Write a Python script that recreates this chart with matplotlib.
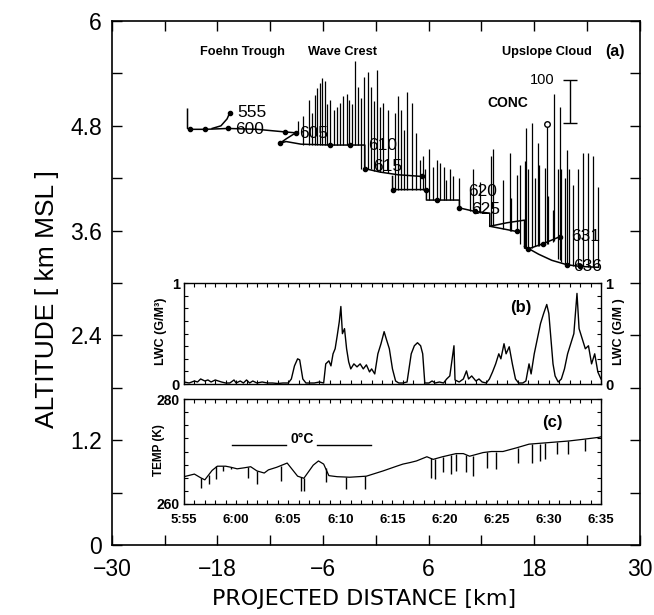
import matplotlib
matplotlib.use('Agg')
import matplotlib.pyplot as plt
from matplotlib.ticker import MultipleLocator, FixedLocator

plt.rcParams['font.family'] = ['Liberation Sans', 'DejaVu Sans']

# ---------------- (a) flight track: projected distance [km] vs altitude [km] ----------------
leg1_x = [-21.4, -21.4, -21.1, -19.4, -16.8, -13.5, -10.3, -9.1]
leg1_y = [4.99, 4.77, 4.76, 4.76, 4.77, 4.76, 4.73, 4.72]
leg2_x = [-18.6, -17.6, -16.9, -16.6]
leg2_y = [4.77, 4.80, 4.88, 4.95]
leg3_x = [-9.1, -10.2, -10.9, -10.2, -8.5, -5.2, -2.95, -1.25, -1.25, 0.5, 2.5, 5.3]
leg3_y = [4.72, 4.65, 4.60, 4.62, 4.59, 4.58, 4.58, 4.58, 4.31, 4.27, 4.24, 4.22]
leg4_x = [1.9, 1.9, 4.0, 5.75, 5.75, 7.5, 9.5, 9.5, 11.25, 12.95, 12.95, 16.0]
leg4_y = [4.22, 4.07, 4.07, 4.07, 3.95, 3.95, 3.95, 3.86, 3.82, 3.80, 3.65, 3.59]
leg5_x = [12.95, 14.9, 16.9, 16.9, 17.3, 19.0, 20.9]
leg5_y = [3.65, 3.69, 3.72, 3.40, 3.39, 3.45, 3.53]
leg6_x = [16.9, 18.5, 20.0, 21.7, 23.2, 25.3]
leg6_y = [3.42, 3.33, 3.26, 3.21, 3.19, 3.18]

dots_x = [-21.1, -19.4, -16.8, -16.6, -10.3, -9.1, -10.9, -5.2, -2.95, -1.25, 5.3,
          1.9, 5.75, 7.0, 9.5, 11.25, 16.0, 17.3, 19.0, 20.9, 21.7, 23.2]
dots_y = [4.76, 4.76, 4.77, 4.95, 4.73, 4.72, 4.60, 4.58, 4.58, 4.31, 4.22,
          4.07, 4.07, 3.95, 3.86, 3.82, 3.59, 3.39, 3.45, 3.53, 3.21, 3.19]

time_labels = ['555', '600', '605', '610', '615', '620', '625', '631', '636']
time_lab_x = [-15.7, -16.0, -8.7, -0.9, -0.35, 10.5, 10.8, 22.2, 22.4]
time_lab_y = [4.95, 4.76, 4.71, 4.58, 4.33, 4.05, 3.84, 3.53, 3.19]

# concentration spikes: position, base altitude, top altitude
spike_x = [-8.8, -8.3, -7.6, -7.3, -6.9, -6.7, -6.4, -6.1, -5.8, -5.5, -5.2, -4.7, -4.4,
           -4.1, -3.7, -3.3, -3.0, -2.7, -2.4, -2.0, -1.7, -1.4, -0.9, -0.5, -0.2, 0.1,
           0.5, 0.8, 1.4, 2.2, 2.5, 2.9, 3.2, 3.5, 4.1, 4.6, 5.0, 5.4, 5.6, 6.1, 6.5,
           6.9, 7.3, 7.8, 8.0, 8.4, 8.8, 9.5, 10.7, 11.1, 11.8, 13.1, 13.3, 14.5, 15.2,
           15.4, 16.0, 16.4, 16.9, 17.1, 17.3, 17.7, 18.1, 18.4, 18.6, 19.2, 19.4, 19.6,
           20.1, 20.3, 20.7, 20.9, 21.1, 21.5, 21.7, 21.9, 22.4, 23.0, 23.6, 24.1, 24.7,
           25.3]
spike_base = [4.72, 4.58, 4.58, 4.58, 4.58, 4.58, 4.58, 4.58, 4.58, 4.58, 4.58, 4.58, 4.58,
              4.58, 4.58, 4.58, 4.58, 4.58, 4.58, 4.58, 4.31, 4.31, 4.31, 4.31, 4.28, 4.28,
              4.27, 4.27, 4.26, 4.07, 4.07, 4.07, 4.07, 4.07, 4.07, 4.07, 4.07, 4.07, 4.07,
              3.95, 3.95, 3.95, 3.95, 3.95, 3.95, 3.95, 3.95, 3.86, 3.82, 3.82, 3.80, 3.65,
              3.65, 3.62, 3.60, 3.60, 3.59, 3.45, 3.40, 3.40, 3.40, 3.40, 3.42, 3.42, 3.42,
              3.44, 3.45, 3.45, 3.47, 3.48, 3.27, 3.26, 3.24, 3.22, 3.21, 3.21, 3.20, 3.19,
              3.19, 3.18, 3.18, 3.18]
spike_top = [4.85, 4.91, 5.10, 4.95, 5.15, 5.23, 5.29, 5.35, 5.31, 5.05, 5.10, 4.98, 5.02,
             5.06, 5.14, 5.17, 5.10, 5.05, 5.54, 5.25, 5.12, 5.36, 5.42, 5.25, 5.08, 5.44,
             5.02, 5.06, 4.98, 4.95, 5.14, 4.98, 4.75, 5.19, 5.06, 4.72, 4.41, 4.45, 4.30,
             4.54, 4.33, 4.41, 4.37, 4.33, 4.18, 4.31, 4.22, 4.20, 4.10, 4.31, 4.16, 4.45,
             4.53, 4.18, 4.49, 3.97, 4.24, 4.35, 4.40, 4.77, 4.30, 4.83, 4.20, 4.60, 4.35,
             4.32, 4.79, 4.00, 3.84, 5.16, 4.30, 5.02, 4.30, 4.20, 4.52, 4.30, 4.12, 4.30,
             4.49, 4.49, 4.45, 4.10]

x_ticks = [-30, -24, -18, -12, -6, 0, 6, 12, 18, 24, 30]
x_ticklabels = ['\u221230', '', '\u221218', '', '\u22126', '', '6', '', '18', '', '30']
y_ticks = [0, 0.6, 1.2, 1.8, 2.4, 3.0, 3.6, 4.2, 4.8, 5.4, 6.0]
y_ticklabels = ['0', '', '1.2', '', '2.4', '', '3.6', '', '4.8', '', '6']

# ---------------- (b) LWC [g/m3] vs time (minutes after 5:55) ----------------
lwc_t = [0.0, 0.5, 1.0, 1.3, 1.6, 2.0, 2.3, 2.6, 3.0, 3.3, 3.6, 4.0, 4.4, 4.8, 5.0, 5.4,
         5.7, 6.0, 6.3, 6.6, 7.0, 7.5, 8.0, 8.5, 9.0, 9.5, 10.0, 10.3, 10.6, 10.9, 11.1,
         11.4, 11.7, 12.0, 12.5, 13.0, 13.4, 13.6, 13.9, 14.1, 14.3, 14.5, 14.7, 14.9,
         15.05, 15.2, 15.4, 15.6, 15.8, 16.0, 16.3, 16.6, 16.9, 17.2, 17.5, 17.8, 18.0,
         18.3, 18.6, 18.9, 19.2, 19.4, 19.7, 20.0, 20.3, 20.6, 21.0, 21.4, 21.8, 22.1,
         22.4, 22.7, 22.9, 23.1, 23.5, 23.8, 24.1, 24.5, 24.9, 25.2, 25.5, 25.9, 26.0,
         26.4, 26.8, 27.1, 27.3, 27.6, 28.0, 28.3, 28.6, 29.0, 29.3, 29.6, 29.9, 30.2,
         30.4, 30.7, 30.9, 31.2, 31.5, 31.8, 32.1, 32.5, 32.8, 33.1, 33.3, 33.6, 33.9,
         34.2, 34.5, 34.8, 35.0, 35.2, 35.4, 35.6, 35.9, 36.2, 36.5, 36.8, 37.1, 37.4,
         37.7, 37.9, 38.2, 38.5, 38.8, 39.1, 39.4, 39.7, 40.0]
lwc_v = [0.02, 0.01, 0.03, 0.02, 0.05, 0.03, 0.04, 0.02, 0.04, 0.03, 0.02, 0.01, 0.01, 0.04,
         0.01, 0.03, 0.01, 0.04, 0.01, 0.03, 0.01, 0.02, 0.01, 0.01, 0.005, 0.01, 0.01, 0.05,
         0.18, 0.25, 0.24, 0.05, 0.01, 0.01, 0.01, 0.02, 0.01, 0.20, 0.23, 0.18, 0.30, 0.35,
         0.48, 0.62, 0.77, 0.50, 0.55, 0.35, 0.22, 0.15, 0.20, 0.17, 0.20, 0.15, 0.19, 0.12,
         0.15, 0.10, 0.30, 0.40, 0.52, 0.45, 0.35, 0.15, 0.03, 0.01, 0.01, 0.02, 0.30, 0.38,
         0.41, 0.38, 0.30, 0.01, 0.01, 0.03, 0.01, 0.02, 0.01, 0.05, 0.08, 0.38, 0.04, 0.02,
         0.05, 0.13, 0.05, 0.08, 0.03, 0.05, 0.02, 0.01, 0.05, 0.12, 0.20, 0.30, 0.25, 0.40,
         0.30, 0.37, 0.20, 0.05, 0.01, 0.01, 0.03, 0.20, 0.10, 0.30, 0.45, 0.60, 0.70, 0.79,
         0.70, 0.45, 0.20, 0.08, 0.02, 0.05, 0.15, 0.30, 0.40, 0.50, 0.90, 0.55, 0.45, 0.35,
         0.38, 0.20, 0.30, 0.12, 0.05]

# ---------------- (c) temperature [K] vs time ----------------
temp_t = [0.0, 1.0, 1.6, 2.0, 2.7, 3.2, 4.0, 4.5, 5.1, 5.8, 6.4, 7.0, 7.7, 8.1, 8.9, 9.9,
          10.5, 10.9, 11.5, 12.4, 12.9, 13.4, 13.9, 14.7, 15.9, 17.5, 19.1, 20.4, 21.0,
          21.7, 22.3, 23.3, 23.9, 24.8, 26.1, 26.8, 27.4, 28.7, 29.5, 30.6, 31.9, 33.1,
          35.0, 36.9, 38.2, 39.8, 40.0]
temp_v = [265.2, 265.7, 265.0, 264.6, 266.4, 267.2, 267.2, 267.0, 266.7, 266.9, 267.1, 266.3,
          265.9, 266.5, 267.0, 267.8, 266.3, 265.3, 264.9, 267.4, 268.2, 267.6, 265.4, 265.2,
          265.1, 265.3, 266.3, 267.2, 267.6, 267.9, 268.2, 269.0, 268.5, 269.0, 269.6, 269.6,
          269.1, 269.8, 270.0, 270.0, 270.7, 271.4, 271.7, 272.0, 272.3, 272.7, 272.8]
tspike_t = [1.6, 2.4, 3.1, 3.7, 4.5, 6.1, 7.0, 9.3, 11.2, 11.5, 13.6, 15.5, 17.4, 23.7, 24.1,
            24.8, 25.6, 26.1, 27.1, 27.7, 29.1, 29.9, 32.0, 33.4, 34.2, 34.6, 35.8, 36.8, 38.5]
tspike_top = [265.0, 265.6, 267.2, 267.2, 267.0, 267.0, 266.3, 267.3, 265.1, 264.9, 266.8,
              265.1, 265.3, 268.7, 268.6, 269.0, 269.4, 269.6, 269.4, 269.2, 269.9, 270.0,
              270.7, 271.4, 271.5, 271.6, 271.8, 272.0, 272.4]
tspike_bot = [263.1, 263.8, 264.7, 266.3, 266.6, 264.9, 263.8, 264.4, 262.5, 262.5, 264.1,
              262.8, 262.8, 265.0, 264.7, 266.0, 265.7, 266.3, 266.0, 265.3, 266.9, 266.6,
              267.9, 267.9, 268.2, 268.5, 269.5, 269.5, 270.1]

time_ticks = [0, 5, 10, 15, 20, 25, 30, 35, 40]
time_ticklabels = ['5:55', '6:00', '6:05', '6:10', '6:15', '6:20', '6:25', '6:30', '6:35']

# ============================ figure ============================
fig = plt.figure(figsize=(6.54, 6.15), dpi=100)

ax = fig.add_axes([0.171, 0.1138, 0.8073, 0.852])
ax.set_xlim(-30, 30)
ax.set_ylim(0, 6)
for s in ax.spines.values():
    s.set_linewidth(1.2)
ax.xaxis.set_major_locator(FixedLocator(x_ticks))
ax.set_xticklabels(x_ticklabels, fontsize=16.5)
ax.yaxis.set_major_locator(FixedLocator(y_ticks))
ax.set_yticklabels(y_ticklabels, fontsize=16.5)
ax.tick_params(direction='in', top=True, right=True, length=7, width=1.0)
ax.tick_params(axis='x', pad=9)
ax.tick_params(axis='y', pad=7)
ax.set_ylabel('ALTITUDE [ km MSL ]', fontsize=19)
ax.yaxis.set_label_coords(-0.10, 0.47)
ax.set_xlabel('PROJECTED DISTANCE [km]', fontsize=16, family=['DejaVu Sans'])
ax.xaxis.set_label_coords(0.477, -0.083)

ax.vlines(spike_x, spike_base, spike_top, color='k', lw=0.9)
for lx, ly in [(leg1_x, leg1_y), (leg2_x, leg2_y), (leg3_x, leg3_y),
               (leg4_x, leg4_y), (leg5_x, leg5_y), (leg6_x, leg6_y)]:
    ax.plot(lx, ly, color='k', lw=1.1)
ax.plot(dots_x, dots_y, 'o', color='k', ms=3)
for lab, tx, ty in zip(time_labels, time_lab_x, time_lab_y):
    ax.text(tx, ty, lab, fontsize=12.5, ha='left', va='center')
ax.plot([19.4], [4.82], 'o', mfc='white', mec='k', ms=4, mew=1)

ax.text(-15.2, 5.65, 'Foehn Trough', fontsize=9.2, fontweight='bold', ha='center', va='center')
ax.text(-3.75, 5.65, 'Wave Crest', fontsize=9.2, fontweight='bold', ha='center', va='center')
ax.text(19.5, 5.65, 'Upslope Cloud', fontsize=9.2, fontweight='bold', ha='center', va='center')
ax.text(27.2, 5.65, '(a)', fontsize=11.5, fontweight='bold', ha='center', va='center')
ax.text(15.0, 5.06, 'CONC', fontsize=10, fontweight='bold', ha='center', va='center')
ax.text(18.9, 5.33, '100', fontsize=10.5, ha='center', va='center')
ax.errorbar([22.05], [5.08], yerr=[0.25], color='k', capsize=5, lw=1, capthick=1)

# ---------------- (b) ----------------
axb = fig.add_axes([0.2813, 0.3756, 0.6376, 0.1637])
axb.set_facecolor('white')
axb.set_xlim(0, 40)
axb.set_ylim(0, 1)
axb.plot(lwc_t, lwc_v, color='k', lw=1.0)
axb.xaxis.set_major_locator(MultipleLocator(1))
axb.set_xticklabels([])
axb.yaxis.set_major_locator(FixedLocator([0, 1]))
axb.yaxis.set_minor_locator(MultipleLocator(0.125))
axb.set_yticklabels(['0', '1'], fontsize=10.5, fontweight='bold')
axb.tick_params(axis='x', direction='in', top=True, length=3, width=0.8)
axb.tick_params(axis='y', which='both', direction='in', right=True, labelright=True,
                length=3, width=0.8, pad=3)
axb.set_ylabel('LWC (G/M\u00b3)', fontsize=9, fontweight='bold')
axb.yaxis.set_label_coords(-0.04, 0.52)
axb.text(1.043, 0.52, 'LWC (G/M )', transform=axb.transAxes, rotation=90,
         fontsize=9, fontweight='bold', ha='center', va='center')
axb.text(32.3, 0.76, '(b)', fontsize=12, fontweight='bold', ha='center', va='center')
for s in axb.spines.values():
    s.set_linewidth(1.0)

# ---------------- (c) ----------------
axc = fig.add_axes([0.2813, 0.1805, 0.6376, 0.1707])
axc.set_facecolor('white')
axc.set_xlim(0, 40)
axc.set_ylim(260, 280)
axc.plot(temp_t, temp_v, color='k', lw=0.9)
axc.vlines(tspike_t, tspike_bot, tspike_top, color='k', lw=1.0)
axc.xaxis.set_major_locator(FixedLocator(time_ticks))
axc.xaxis.set_minor_locator(MultipleLocator(1))
axc.set_xticklabels(time_ticklabels, fontsize=9.5, fontweight='bold')
axc.yaxis.set_major_locator(FixedLocator([260, 280]))
axc.yaxis.set_minor_locator(MultipleLocator(2.5))
axc.set_yticklabels(['260', '280'], fontsize=10, fontweight='bold')
axc.tick_params(axis='x', which='both', direction='in', top=True, length=3, width=0.8, pad=7)
axc.tick_params(axis='y', which='both', direction='in', right=True, length=3, width=0.8, pad=3)
axc.set_ylabel('TEMP (K)', fontsize=8.5, fontweight='bold')
axc.yaxis.set_label_coords(-0.045, 0.51)
axc.plot([4.6, 9.8], [271.2, 271.2], color='k', lw=1.0)
axc.plot([12.8, 17.9], [271.2, 271.2], color='k', lw=1.0)
axc.text(11.3, 271.0, '0\u00b0C', fontsize=10, fontweight='bold', ha='center', va='bottom')
axc.text(35.3, 275.6, '(c)', fontsize=12, fontweight='bold', ha='center', va='center')
for s in axc.spines.values():
    s.set_linewidth(1.0)

fig.savefig('out.png', dpi=100)
